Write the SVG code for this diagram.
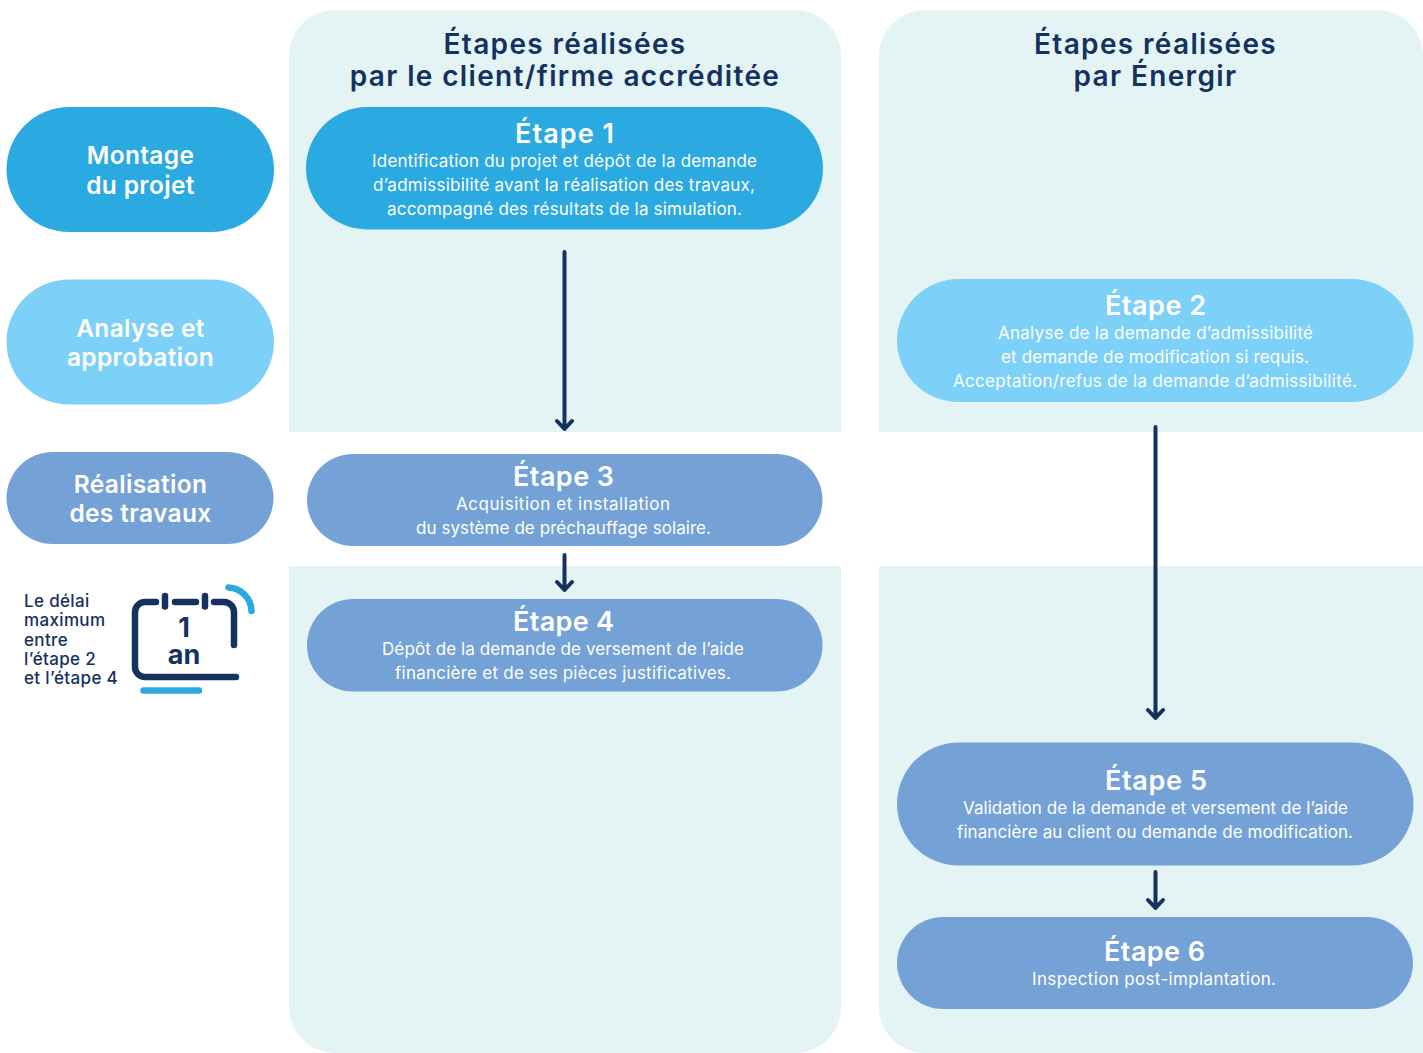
<svg xmlns="http://www.w3.org/2000/svg" width="1423" height="1053" viewBox="0 0 1423 1053">
<defs>
<style>
text{font-family:"Inter","Liberation Sans",sans-serif;text-anchor:middle}
.panel{fill:#e4f4f5}
.c1{fill:#2ba9e1}.c2{fill:#7dd0f7}.c3{fill:#74a2d6}
.hd{font-size:28px;font-weight:600;fill:#14315f;letter-spacing:1.35px}
.side{font-size:24.500px;font-weight:600;fill:#fff;letter-spacing:.35px}
.ti{font-size:27px;font-weight:600;fill:#fff}
.de{font-size:17px;font-weight:400;fill:#fff}
.note{font-size:17px;font-weight:500;fill:#14315f;text-anchor:start;letter-spacing:.35px}
.big{font-size:27px;font-weight:700;fill:#14315f}
.conn{fill:none;stroke:#14315f;stroke-width:4;stroke-linecap:round;stroke-linejoin:round}
.ico{fill:none;stroke:#14315f;stroke-width:6.500;stroke-linecap:round;stroke-linejoin:round}
.ico2{fill:none;stroke:#2ba9e1;stroke-width:6.500;stroke-linecap:round}
</style>
</defs>
<g id="panels">
<path class="panel" d="M289 432V56a46 46 0 0 1 46-46H795a46 46 0 0 1 46 46V432Z"/>
<path class="panel" d="M289 566H841V1007a46 46 0 0 1-46 46H335a46 46 0 0 1-46-46Z"/>
<path class="panel" d="M879 432V56a46 46 0 0 1 46-46H1377a46 46 0 0 1 46 46V432Z"/>
<path class="panel" d="M879 566H1423V1053H925a46 46 0 0 1-46-46Z"/>
</g>
<g id="headers">
<text class="hd" x="565" y="54">Étapes réalisées</text>
<text class="hd" x="565" y="86">par le client/firme accréditée</text>
<text class="hd" x="1155.500" y="54">Étapes réalisées</text>
<text class="hd" x="1155.500" y="86">par Énergir</text>
</g>
<g id="phase-montage">
<rect class="c1" x="6.500" y="107" width="267.500" height="125" rx="62.500"/>
<text class="side" x="140.500" y="164">Montage</text>
<text class="side" x="140.500" y="194">du projet</text>
</g>
<g id="phase-analyse">
<rect class="c2" x="6.500" y="279.500" width="267.500" height="125" rx="62.500"/>
<text class="side" x="140.500" y="337">Analyse et</text>
<text class="side" x="140.500" y="366">approbation</text>
</g>
<g id="phase-realisation">
<rect class="c3" x="6.500" y="452" width="267" height="92" rx="46"/>
<text class="side" x="140.500" y="493">Réalisation</text>
<text class="side" x="140.500" y="522">des travaux</text>
</g>
<g id="delai">
<text class="note" x="24" y="607">Le délai</text>
<text class="note" x="24" y="625.500">maximum</text>
<text class="note" x="24" y="645.500">entre</text>
<text class="note" x="24" y="664.500">l’étape 2</text>
<text class="note" x="24" y="684">et l’étape 4</text>
<path class="ico" d="M156 602H145a10 10 0 0 0-10 10V667a10 10 0 0 0 10 10H236M175 602H196M165 596V606.500M205 596V606.500M214 602H224a10 10 0 0 1 10 10V645"/>
<path class="ico2" d="M143.500 690.500H199M228.500 587.500A24 24 0 0 1 251.500 611"/>
<text class="big"><tspan x="184" y="637">1</tspan><tspan x="184" y="664">an</tspan></text>
</g>
<g id="etape1">
<rect class="c1" x="306" y="107" width="517" height="122.500" rx="61.250"/>
<text class="ti" x="564.500" y="143" textLength="99">Étape 1</text>
<text class="de" x="564.500" y="166.500" textLength="385">Identification du projet et dépôt de la demande</text>
<text class="de" x="564" y="190.500" textLength="382">d’admissibilité avant la réalisation des travaux,</text>
<text class="de" x="564.500" y="214.500" textLength="355">accompagné des résultats de la simulation.</text>
</g>
<g id="etape2">
<rect class="c2" x="897" y="279" width="516.500" height="123" rx="61.500"/>
<text class="ti" x="1155.500" y="315" textLength="101">Étape 2</text>
<text class="de" x="1155.500" y="338.500" textLength="315">Analyse de la demande d’admissibilité</text>
<text class="de" x="1155" y="362.500" textLength="308">et demande de modification si requis.</text>
<text class="de" x="1155" y="386.500" textLength="404">Acceptation/refus de la demande d’admissibilité.</text>
</g>
<g id="etape3">
<rect class="c3" x="307" y="454" width="515.500" height="92" rx="46"/>
<text class="ti" x="563.500" y="486" textLength="101">Étape 3</text>
<text class="de" x="563" y="509.500" textLength="214">Acquisition et installation</text>
<text class="de" x="563.500" y="533.500" textLength="295">du système de préchauffage solaire.</text>
</g>
<g id="etape4">
<rect class="c3" x="307" y="599" width="515.500" height="92.500" rx="46"/>
<text class="ti" x="563.500" y="631" textLength="101">Étape 4</text>
<text class="de" x="563" y="654.500" textLength="362">Dépôt de la demande de versement de l’aide</text>
<text class="de" x="563" y="678.500" textLength="336">financière et de ses pièces justificatives.</text>
</g>
<g id="etape5">
<rect class="c3" x="897" y="742.500" width="516.500" height="123" rx="61.500"/>
<text class="ti" x="1156" y="790" textLength="102">Étape 5</text>
<text class="de" x="1155.500" y="813.500" textLength="385">Validation de la demande et versement de l’aide</text>
<text class="de" x="1155" y="837.500" textLength="396">financière au client ou demande de modification.</text>
</g>
<g id="etape6">
<rect class="c3" x="897" y="917" width="516" height="92" rx="46"/>
<text class="ti" x="1154.500" y="961" textLength="101">Étape 6</text>
<text class="de" x="1154" y="984.500" textLength="244">Inspection post-implantation.</text>
</g>
<g id="connectors">
<path class="conn" d="M564.500 252V428M557 421L564.500 429L572 421"/>
<path class="conn" d="M564.500 555V589M557 582L564.500 590L572 582"/>
<path class="conn" d="M1155.500 427V717M1148 710L1155.500 718L1163 710"/>
<path class="conn" d="M1155.500 872V907M1148 900L1155.500 908L1163 900"/>
</g>
</svg>
